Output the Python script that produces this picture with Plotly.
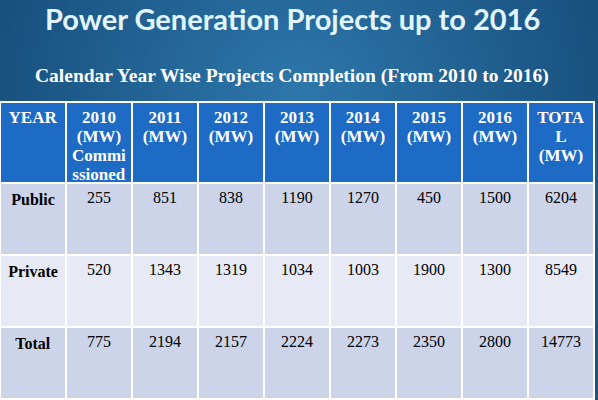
import base64, struct, zlib
import plotly.graph_objects as go

title = "Power Generation Projects up to 2016"
subtitle = "Calendar Year Wise Projects Completion (From 2010 to 2016)"
header_lines = [
    ["YEAR", "", "", ""],
    ["2010", "(MW)", "Commi", "ssioned"],
    ["2011", "(MW)", "", ""],
    ["2012", "(MW)", "", ""],
    ["2013", "(MW)", "", ""],
    ["2014", "(MW)", "", ""],
    ["2015", "(MW)", "", ""],
    ["2016", "(MW)", "", ""],
    ["TOTA", "L", "(MW)", ""],
]
row_labels = ["Public", "Private", "Total"]
public = [255, 851, 838, 1190, 1270, 450, 1500, 6204]
private = [520, 1343, 1319, 1034, 1003, 1900, 1300, 8549]
total = [775, 2194, 2157, 2224, 2273, 2350, 2800, 14773]


def gradient_png(w, h):
    inner = (46, 120, 172)
    outer = (22, 74, 118)
    rows = []
    for j in range(h):
        row = bytearray([0])
        for i in range(w):
            dx = (i / (w - 1) - 0.5) / 0.62
            dy = (j / (h - 1) - 0.22) / 0.8
            t = min(1.0, (dx * dx + dy * dy) ** 0.5)
            for a, b in zip(inner, outer):
                row.append(int(a + (b - a) * t))
        rows.append(bytes(row))
    raw = b"".join(rows)

    def chunk(tag, data):
        c = struct.pack(">I", len(data)) + tag + data
        return c + struct.pack(">I", zlib.crc32(tag + data) & 0xFFFFFFFF)

    png = b"\x89PNG\r\n\x1a\n" + chunk(b"IHDR", struct.pack(">IIBBBBB", w, h, 8, 2, 0, 0, 0))
    png += chunk(b"IDAT", zlib.compress(raw)) + chunk(b"IEND", b"")
    return "data:image/png;base64," + base64.b64encode(png).decode()


cols = [["<b>%s</b>" % r for r in row_labels]]
for k in range(len(public)):
    cols.append([str(public[k]), str(private[k]), str(total[k])])

row_fill = ["#CDD4EA", "#E7EAF5", "#CDD4EA"]
ncol = len(header_lines)
xdom = [0, 594 / 598]

traces = [go.Table(
    domain=dict(x=xdom, y=[0, 298 / 400]),
    columnwidth=[1] * ncol,
    header=dict(
        values=[""] * ncol,
        fill_color="#1D6BC5",
        line=dict(color="white", width=2),
        height=81,
        font=dict(family="Liberation Serif", size=15, color="white"),
    ),
    cells=dict(
        values=cols,
        fill_color=[row_fill] * ncol,
        line=dict(color="white", width=2),
        align="center",
        height=72,
        font=dict(family="Liberation Serif", size=16, color="black"),
    ),
)]

# header text: one transparent single-row table per text line so each line is centred
line_tops = [100.0, 118.9, 137.8, 156.7]
for i, top in enumerate(line_tops):
    traces.append(go.Table(
        domain=dict(x=xdom, y=[0, (400 - top) / 400]),
        columnwidth=[1] * ncol,
        header=dict(
            values=["<b>%s</b>" % col[i] if col[i] else "" for col in header_lines],
            fill_color="rgba(0,0,0,0)",
            line=dict(color="rgba(0,0,0,0)", width=0),
            align="center",
            height=18.9,
            font=dict(family="Liberation Serif", size=17, color="white"),
        ),
        cells=dict(values=[[] for _ in range(ncol)], fill_color="rgba(0,0,0,0)",
                   line=dict(width=0)),
    ))

fig = go.Figure(traces)

fig.update_layout(
    width=598, height=400,
    margin=dict(l=0, r=0, t=0, b=0),
    paper_bgcolor="#1E5F93",
    images=[dict(source=gradient_png(60, 40), xref="paper", yref="paper", x=0, y=1,
                 sizex=1, sizey=1, sizing="stretch", xanchor="left", yanchor="top", layer="below")],
    annotations=[
        dict(text="<b>%s</b>" % title, x=292 / 598, y=1 - 19 / 400, xref="paper", yref="paper",
             xanchor="center", yanchor="middle",
             showarrow=False, font=dict(family="Lato", size=29, color="#E3F6FF")),
        dict(text="<b>%s</b>" % subtitle, x=291.5 / 598, y=1 - 76 / 400, xref="paper", yref="paper",
             xanchor="center", yanchor="middle",
             showarrow=False, font=dict(family="Liberation Serif", size=19.5, color="white")),
    ],
)

fig.write_html("out.html", config={"displayModeBar": False},
               post_script="document.body.style.margin='0';")
